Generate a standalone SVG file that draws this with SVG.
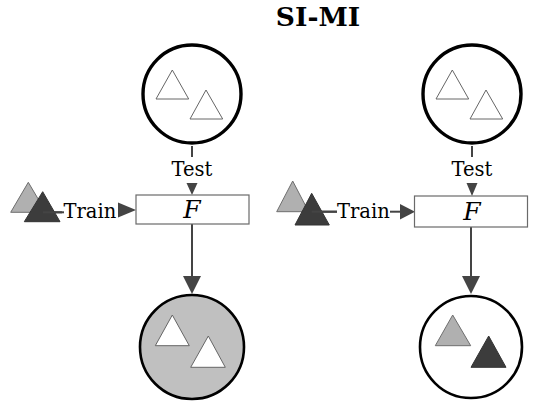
<svg xmlns="http://www.w3.org/2000/svg" width="537" height="404" viewBox="0 0 537 404">
<style>
.ring{fill:#fff;stroke:#000;stroke-width:3.4}
.ringb{stroke:#000;stroke-width:2.6}
.tw{fill:#fff;stroke:#666;stroke-width:1}
.tg{fill:#b0b0b0;stroke:#6e6e6e;stroke-width:1}
.td{fill:#3c3c3c;stroke:#333;stroke-width:1}
.box{fill:#fff;stroke:#6a6a6a;stroke-width:1.2}
.ln{stroke:#444;stroke-width:2;fill:none}
.ah{fill:#444}
.lbl{font-family:"DejaVu Serif",serif;font-size:19.5px;fill:#000}
.fx{font-family:"DejaVu Serif",serif;font-style:italic;font-size:25px;fill:#000}
.ttl{font-family:"DejaVu Serif",serif;font-weight:bold;font-size:26.5px;fill:#000}
</style>
<text class="ttl" x="318" y="26" text-anchor="middle">SI-MI</text>
<g id="connectors">
<line class="ln" x1="192" y1="146" x2="192" y2="157"/>
<polygon class="ah" points="186.5,183 197.5,183 192,195"/>
<line class="ln" x1="192" y1="224" x2="192" y2="278"/>
<polygon class="ah" points="183,276 201,276 192,294"/>
<line class="ln" x1="43" y1="212.3" x2="64" y2="212.3"/>
<polygon class="ah" points="118,202.5 136,210 118,217.5"/>
<line class="ln" x1="472" y1="146" x2="472" y2="157"/>
<polygon class="ah" points="466.5,183 477.5,183 472,196"/>
<line class="ln" x1="471" y1="227" x2="471" y2="278"/>
<polygon class="ah" points="462,276 480,276 471,294"/>
<line class="ln" x1="311.7" y1="211.7" x2="337" y2="211.7"/>
<line class="ln" x1="390" y1="211.7" x2="402" y2="211.7"/>
<polygon class="ah" points="400,204 415,211.7 400,219.4"/>
<text class="lbl" x="192" y="176" text-anchor="middle">Test</text>
<text class="lbl" x="472" y="176" text-anchor="middle">Test</text>
<text class="lbl" x="63.5" y="218.3">Train</text>
<text class="lbl" x="337" y="218.3">Train</text>
</g>
<g id="test-set-left">
<circle class="ring" cx="192" cy="94" r="49"/>
<polygon class="tw" points="172.3,70 156,99 188.7,99"/>
<polygon class="tw" points="206,90 190,119 222.7,119"/>
</g>
<g id="train-set-left">
<polygon class="tg" points="28.3,182.3 10.7,212.3 46,212.3"/>
<polygon class="td" points="42.7,191.7 24.3,221.7 60,221.7"/>
<line class="ln" x1="43" y1="212.3" x2="62" y2="212.3"/>
</g>
<g id="model-left">
<rect class="box" x="136" y="195" width="113" height="29"/>
<text class="fx" x="192" y="218" text-anchor="middle">F</text>
</g>
<g id="output-left">
<circle class="ringb" fill="#c0c0c0" cx="192" cy="347" r="52"/>
<polygon class="tw" points="172.3,315 155.3,345.7 189.3,345.7"/>
<polygon class="tw" points="208.3,336 190.7,367.3 225.3,367.3"/>
</g>
<g id="test-set-right">
<circle class="ring" cx="472" cy="94" r="49"/>
<polygon class="tw" points="452.3,70 436,99 468.7,99"/>
<polygon class="tw" points="486,90 470,119 502.7,119"/>
</g>
<g id="train-set-right">
<polygon class="tg" points="292.7,181 276.7,211.7 308.7,211.7"/>
<polygon class="td" points="311.7,193.3 295,225 329.3,225"/>
<line class="ln" x1="311.7" y1="211.7" x2="337" y2="211.7"/>
</g>
<g id="model-right">
<rect class="box" x="414.5" y="196" width="113" height="31"/>
<text class="fx" x="472" y="220" text-anchor="middle">F</text>
</g>
<g id="output-right">
<circle class="ringb" fill="#fff" cx="471" cy="347" r="51"/>
<polygon class="tg" points="452.7,315 435.3,345.7 470.7,345.7"/>
<polygon class="td" points="488.7,336 471,367.3 506,367.3"/>
</g>
</svg>
